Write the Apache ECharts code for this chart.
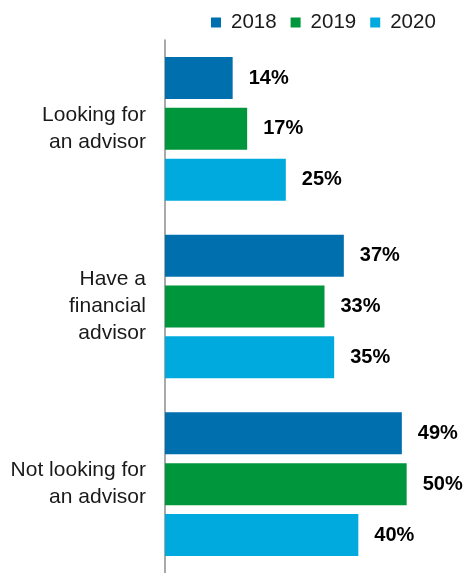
<!DOCTYPE html>
<html>
<head>
<meta charset="utf-8">
<script src="https://cdn.jsdelivr.net/npm/echarts@6/dist/echarts.min.js"></script>
<style>
  html, body { margin: 0; padding: 0; background: #fff; }
  #chart { width: 466px; height: 573px; }
</style>
</head>
<body>
<div id="chart"></div>
<script>
// Advisor status by survey year (percent of respondents)
const categories = ['Looking for\nan advisor', 'Have a\nfinancial\nadvisor', 'Not looking for\nan advisor'];
const years = ['2018', '2019', '2020'];
const values2018 = [14, 37, 49];
const values2019 = [17, 33, 50];
const values2020 = [25, 35, 40];
const colors = ['#006fae', '#00963b', '#00aadf'];

const FONT = '"Liberation Sans", Arial, sans-serif';
const seriesValues = [values2018, values2019, values2020];

const chart = echarts.init(document.getElementById('chart'));
chart.setOption({
  animation: false,
  textStyle: { fontFamily: FONT },
  legend: {
    data: years,
    left: 206,
    top: 7,
    icon: 'rect',
    itemWidth: 10,
    itemHeight: 10,
    itemGap: 14,
    textStyle: { fontSize: 20.5, color: '#1a1a1a', fontFamily: FONT, padding: [0, 0, 0, 5] }
  },
  grid: { left: 165, top: 40, width: 290, height: 533, containLabel: false },
  xAxis: {
    type: 'value',
    min: 0,
    max: 60,
    show: false
  },
  yAxis: {
    type: 'category',
    data: categories,
    inverse: true,
    axisLine: { show: true, lineStyle: { color: '#8c8c8c', width: 1.5 } },
    axisTick: { show: false },
    axisLabel: {
      margin: 19,
      fontSize: 21,
      lineHeight: 27,
      color: '#1a1a1a',
      fontFamily: FONT,
      align: 'right'
    }
  },
  series: years.map((y, i) => ({
    name: y,
    type: 'bar',
    data: seriesValues[i],
    barWidth: 42,
    barGap: '21%',
    itemStyle: { color: colors[i] },
    label: {
      show: true,
      position: 'right',
      distance: 16,
      formatter: '{c}%',
      fontSize: 20,
      fontWeight: 'bold',
      color: '#000',
      fontFamily: FONT
    }
  }))
});
</script>
</body>
</html>
